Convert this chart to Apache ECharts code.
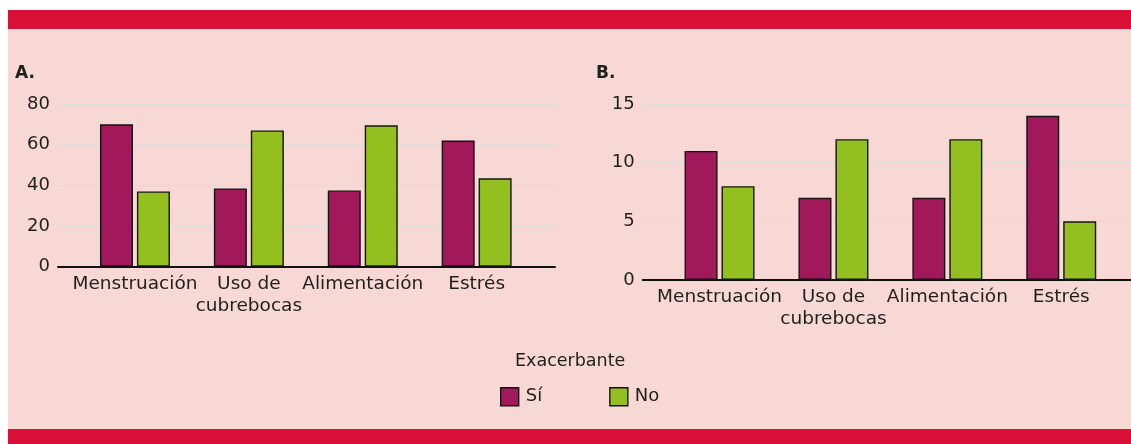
<!DOCTYPE html>
<html>
<head>
<meta charset="utf-8">
<script src="https://cdn.jsdelivr.net/npm/echarts@6/dist/echarts.min.js"></script>
<style>
  html, body { margin: 0; padding: 0; background: #ffffff; }
  #wrap { position: relative; width: 1131px; height: 444px; overflow: hidden; background: #ffffff; }
  #pink { position: absolute; left: 8px; top: 29px; width: 1123px; height: 400px; background: #F7D8D4; }
  #topband { position: absolute; left: 8px; top: 10px; width: 1123px; height: 19px; background: #D81038; }
  #botband { position: absolute; left: 8px; top: 429px; width: 1123px; height: 15px; background: #D81038; }
  #chart { position: absolute; left: 0; top: 0; width: 1131px; height: 444px; }
</style>
</head>
<body>
<div id="wrap">
  <div id="pink"></div>
  <div id="topband"></div>
  <div id="botband"></div>
  <div id="chart"></div>
</div>
<script>
// ---- data ----
var categories = ['Menstruación', 'Uso de\ncubrebocas', 'Alimentación', 'Estrés'];
var seriesNames = ['Sí', 'No'];
var siA = [70, 38.5, 37.5, 62];
var noA = [37, 67, 69.5, 43.5];
var siB = [11, 7, 7, 14];
var noB = [8, 12, 12, 5];
var axisA = { min: 0, max: 80, interval: 20 };
var axisB = { min: 0, max: 15, interval: 5 };
var panelTitles = ['A.', 'B.'];
var legendTitle = 'Exacerbante';

// ---- styles ----
var FONT = 'DejaVu Sans';
var TXT = '#1f1f1f';
var C_SI = '#A2195B';
var C_NO = '#93C01F';
var BORDER = '#141414';
var GRIDC = '#DCDCDE';

var chart = echarts.init(document.getElementById('chart'), null, { renderer: 'canvas' });

function wideY(idx, ax) {
  return {
    type: 'value', gridIndex: idx, min: ax.min, max: ax.max, interval: ax.interval,
    axisLine: { show: false }, axisTick: { show: false },
    axisLabel: { color: TXT, fontFamily: FONT, fontSize: 18, margin: 8 },
    splitLine: { show: true, lineStyle: { color: GRIDC, width: 1.2 } }
  };
}
function narrowY(idx, ax) {
  return { type: 'value', gridIndex: idx, min: ax.min, max: ax.max, show: false, splitLine: { show: false } };
}
function wideX(idx) {
  return {
    type: 'value', gridIndex: idx, min: 0, max: 1,
    axisLine: { show: true, onZero: false, lineStyle: { color: '#111', width: 2 } },
    axisTick: { show: false }, axisLabel: { show: false }, splitLine: { show: false }
  };
}
function narrowX(idx) {
  return {
    type: 'category', gridIndex: idx, data: categories,
    axisLine: { show: false }, axisTick: { show: false }, splitLine: { show: false },
    axisLabel: { interval: 0, color: TXT, fontFamily: FONT, fontSize: 18.5, lineHeight: 22, margin: 6 }
  };
}
function bar(name, data, color, idx) {
  return {
    type: 'bar', name: name, data: data, xAxisIndex: idx, yAxisIndex: idx,
    barWidth: 33, barGap: '12%',
    itemStyle: { color: color, borderColor: BORDER, borderWidth: 1.4 },
    emphasis: { disabled: true }, animation: false
  };
}

var option = {
  animation: false,
  textStyle: { fontFamily: FONT },
  title: [
    { text: panelTitles[0], left: 10, top: 60, textStyle: { fontFamily: FONT, fontSize: 17, fontWeight: 'bold', color: TXT } },
    { text: panelTitles[1], left: 591, top: 60, textStyle: { fontFamily: FONT, fontSize: 17, fontWeight: 'bold', color: TXT } },
    { text: legendTitle, left: 510, top: 347, textStyle: { fontFamily: FONT, fontSize: 17.5, fontWeight: 'normal', color: TXT } }
  ],
  legend: {
    data: seriesNames, left: 495, top: 382, orient: 'horizontal',
    itemWidth: 18, itemHeight: 18, itemGap: 67, icon: 'rect',
    itemStyle: { borderColor: BORDER, borderWidth: 1.4 },
    textStyle: { fontFamily: FONT, fontSize: 18, color: TXT, padding: [0, 0, 0, 2] },
    selectedMode: false
  },
  grid: [
    { left: 58, top: 104, width: 497, height: 162.7 },
    { left: 78, top: 104, width: 455.6, height: 162.7 },
    { left: 642.7, top: 104, width: 488.3, height: 176 },
    { left: 662.6, top: 104, width: 455.6, height: 176 }
  ],
  xAxis: [wideX(0), narrowX(1), wideX(2), narrowX(3)],
  yAxis: [wideY(0, axisA), narrowY(1, axisA), wideY(2, axisB), narrowY(3, axisB)],
  series: [
    bar(seriesNames[0], siA, C_SI, 1),
    bar(seriesNames[1], noA, C_NO, 1),
    bar(seriesNames[0], siB, C_SI, 3),
    bar(seriesNames[1], noB, C_NO, 3)
  ]
};
chart.setOption(option);
</script>
</body>
</html>
